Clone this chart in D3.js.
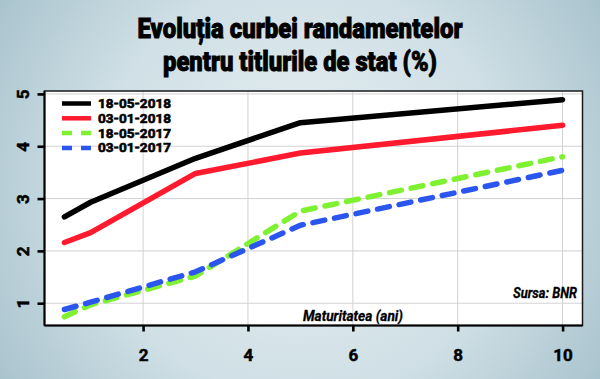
<!DOCTYPE html>
<html>
<head>
<meta charset="utf-8">
<script src="https://cdn.jsdelivr.net/npm/d3@7"></script>
<style>
  html, body { margin: 0; padding: 0; background: #fff; }
  svg { display: block; }
</style>
</head>
<body>
<script>
// ---------- data ----------
const maturities = [0.5, 1, 3, 5, 10];
const y18May2018 = [2.65, 2.93, 3.77, 4.45, 4.89];
const y03Jan2018 = [2.16, 2.35, 3.48, 3.87, 4.40];
const y18May2017 = [0.74, 0.97, 1.52, 2.76, 3.80];
const y03Jan2017 = [0.88, 1.02, 1.60, 2.49, 3.54];
const seriesNames = ["18-05-2018", "03-01-2018", "18-05-2017", "03-01-2017"];
const xTicks = [2, 4, 6, 8, 10];
const yTicks = [1, 2, 3, 4, 5];
const titleLines = ["Evoluția curbei randamentelor", "pentru titlurile de stat (%)"];
const xAxisTitle = "Maturitatea (ani)";
const sourceText = "Sursa: BNR";

// ---------- setup ----------
const W = 600, H = 379;
const FONT = "'Roboto', 'Liberation Sans Narrow', 'DejaVu Sans Condensed', sans-serif";
const svg = d3.select("body").append("svg").attr("width", W).attr("height", H);

const defs = svg.append("defs");
const grad = defs.append("radialGradient").attr("id", "bg")
  .attr("gradientUnits", "userSpaceOnUse")
  .attr("cx", 300).attr("cy", 190).attr("r", 380);
grad.append("stop").attr("offset", "0%").attr("stop-color", "#e9f1f4");
grad.append("stop").attr("offset", "55%").attr("stop-color", "#cfdfe5");
grad.append("stop").attr("offset", "100%").attr("stop-color", "#a3bfca");
svg.append("rect").attr("width", W).attr("height", H).attr("fill", "url(#bg)");

// scales (R style 4% padding)
const allY = [].concat(y18May2018, y03Jan2018, y18May2017, y03Jan2017);
const xExt = d3.extent(maturities), yExt = d3.extent(allY);
const xPad = (xExt[1] - xExt[0]) * 0.04, yPad = (yExt[1] - yExt[0]) * 0.04;
const x = d3.scaleLinear().domain([xExt[0] - xPad, xExt[1] + xPad]).range([44.5, 582.5]);
const y = d3.scaleLinear().domain([yExt[0] - yPad, yExt[1] + yPad]).range([325.5, 91]);
const [L, R] = x.range(), [B, T] = y.range();

// plot background
svg.append("rect").attr("x", L).attr("y", T).attr("width", R - L).attr("height", B - T).attr("fill", "#ffffff");

// grid
const grid = svg.append("g").attr("stroke", "#d2d2d2").attr("stroke-width", 1);
grid.selectAll("line.gx").data(xTicks).join("line")
  .attr("x1", d => x(d)).attr("x2", d => x(d)).attr("y1", T).attr("y2", B);
grid.selectAll("line.gy").data(yTicks).join("line")
  .attr("y1", d => y(d)).attr("y2", d => y(d)).attr("x1", L).attr("x2", R);

// axes with d3
const xAxis = svg.append("g").attr("transform", `translate(0,${B})`)
  .call(d3.axisBottom(x).tickValues(xTicks).tickFormat(d3.format("d")).tickSize(6).tickPadding(14).tickSizeOuter(0));
const yAxis = svg.append("g").attr("transform", `translate(${L},0)`)
  .call(d3.axisLeft(y).tickValues(yTicks).tickFormat(d3.format("d")).tickSize(7).tickPadding(14).tickSizeOuter(0));
[xAxis, yAxis].forEach(a => {
  a.select(".domain").remove();
  a.selectAll(".tick line").attr("stroke", "#000").attr("stroke-width", 2.6);
  a.selectAll(".tick text").attr("fill", "#000").attr("stroke", "#000").attr("stroke-width", 0.5)
    .style("font-family", FONT).style("font-weight", 700).style("font-size", "17px");
});
xAxis.selectAll(".tick text").attr("dy", "0.9em");
yAxis.selectAll(".tick text")
  .attr("transform", `rotate(-90, -22, 0)`)
  .attr("x", -22).attr("dy", "0.36em").attr("text-anchor", "middle");

// plot box
svg.append("rect").attr("x", L).attr("y", T).attr("width", R - L).attr("height", B - T)
  .attr("fill", "none").attr("stroke", "#1a1a1a").attr("stroke-width", 1.5);
svg.append("line").attr("x1", L).attr("x2", R).attr("y1", B).attr("y2", B).attr("stroke", "#000").attr("stroke-width", 2);
svg.append("line").attr("x1", L).attr("x2", L).attr("y1", T).attr("y2", B).attr("stroke", "#000").attr("stroke-width", 2);

// lines
const series = [
  { name: seriesNames[0], values: y18May2018, color: "#000000", dash: null },
  { name: seriesNames[1], values: y03Jan2018, color: "#ff1a2e", dash: null },
  { name: seriesNames[2], values: y18May2017, color: "#7ef230", dash: "12,10" },
  { name: seriesNames[3], values: y03Jan2017, color: "#2b56ee", dash: "12,10" }
];
const line = d3.line().x(d => x(d[0])).y(d => y(d[1]));
const drawOrder = [2, 3, 1, 0];
drawOrder.forEach(i => {
  const s = series[i];
  svg.append("path")
    .datum(maturities.map((m, j) => [m, s.values[j]]))
    .attr("d", line)
    .attr("fill", "none")
    .attr("stroke", s.color)
    .attr("stroke-width", 5.5)
    .attr("stroke-linecap", "round")
    .attr("stroke-linejoin", "round")
    .attr("stroke-dasharray", s.dash);
});

// legend
const leg = svg.append("g");
series.forEach((s, i) => {
  const yy = 103.5 + i * 14.8;
  leg.append("line").attr("x1", 62).attr("x2", 91).attr("y1", yy).attr("y2", yy)
    .attr("stroke", s.color).attr("stroke-width", 4.5)
    .attr("stroke-dasharray", s.dash ? "10,9" : null);
  leg.append("text").attr("x", 98).attr("y", yy).attr("dy", "0.36em")
    .attr("textLength", 73).attr("lengthAdjust", "spacingAndGlyphs")
    .attr("stroke", "#000").attr("stroke-width", 0.6)
    .style("font-family", FONT).style("font-weight", 700).style("font-size", "12.6px")
    .text(s.name);
});

// annotations
svg.append("text").attr("x", 303).attr("y", 316).attr("dy", "0.36em")
  .attr("textLength", 100).attr("lengthAdjust", "spacingAndGlyphs")
  .attr("stroke", "#000").attr("stroke-width", 0.3)
  .style("font-family", FONT).style("font-weight", 700).style("font-style", "italic").style("font-size", "15px")
  .text(xAxisTitle);
svg.append("text").attr("x", 513).attr("y", 293).attr("dy", "0.36em")
  .attr("textLength", 64).attr("lengthAdjust", "spacingAndGlyphs")
  .attr("stroke", "#000").attr("stroke-width", 0.3)
  .style("font-family", FONT).style("font-weight", 700).style("font-style", "italic").style("font-size", "15px")
  .text(sourceText);

// title
const titleWidths = [325, 274];
titleLines.forEach((t, i) => {
  svg.append("text").attr("x", 300 - titleWidths[i] / 2).attr("y", 38 + i * 33)
    .attr("textLength", titleWidths[i]).attr("lengthAdjust", "spacingAndGlyphs")
    .attr("stroke", "#000").attr("stroke-width", 0.9)
    .style("font-family", FONT).style("font-weight", 900).style("font-size", "27px")
    .attr("fill", "#000")
    .text(t);
});
</script>
</body>
</html>
